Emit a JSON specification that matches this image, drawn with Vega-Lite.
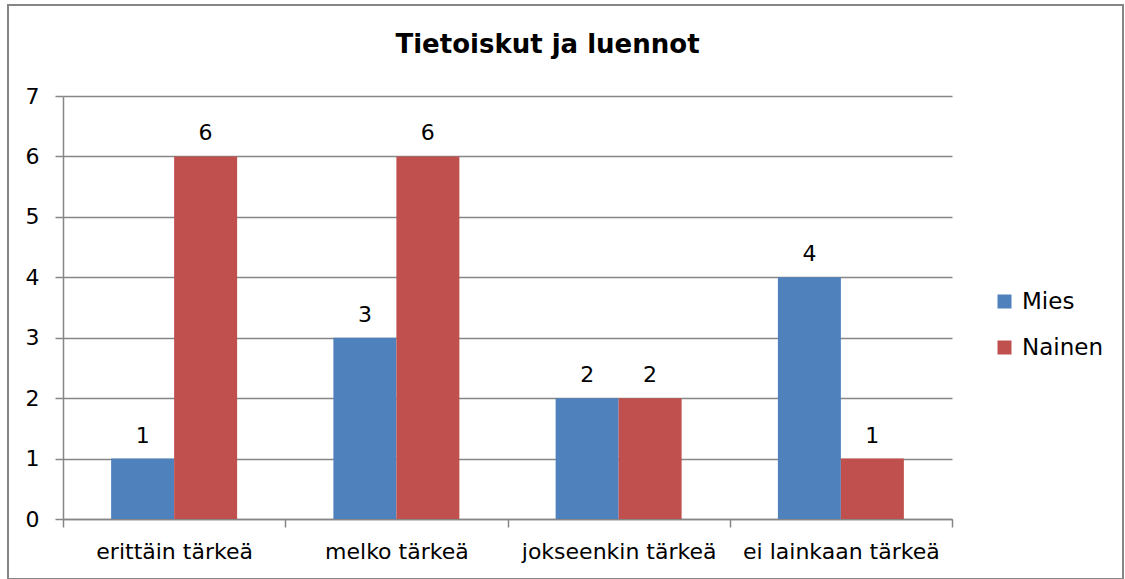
{
  "$schema": "https://vega.github.io/schema/vega-lite/v6.json",
  "width": 1115,
  "height": 574,
  "autosize": {"type": "none"},
  "padding": {"left": 8, "top": 5, "right": 2, "bottom": 0},
  "background": "white",
  "config": {
    "view": {"stroke": "#868686", "strokeWidth": 2},
    "font": "DejaVu Sans"
  },
  "title": {
    "text": "Tietoiskut ja luennot",
    "font": "DejaVu Sans",
    "fontSize": 26,
    "fontWeight": "bold",
    "color": "black",
    "anchor": "middle",
    "frame": "group",
    "orient": "top",
    "offset": -74,
    "baseline": "alphabetic",
    "dx": -18
  },
  "data": {
    "values": [
      {"kategoria": "erittäin tärkeä", "sukupuoli": "Mies", "arvo": 1},
      {"kategoria": "erittäin tärkeä", "sukupuoli": "Nainen", "arvo": 6},
      {"kategoria": "melko tärkeä", "sukupuoli": "Mies", "arvo": 3},
      {"kategoria": "melko tärkeä", "sukupuoli": "Nainen", "arvo": 6},
      {"kategoria": "jokseenkin tärkeä", "sukupuoli": "Mies", "arvo": 2},
      {"kategoria": "jokseenkin tärkeä", "sukupuoli": "Nainen", "arvo": 2},
      {"kategoria": "ei lainkaan tärkeä", "sukupuoli": "Mies", "arvo": 4},
      {"kategoria": "ei lainkaan tärkeä", "sukupuoli": "Nainen", "arvo": 1}
    ]
  },
  "encoding": {
    "x": {
      "field": "kategoria",
      "type": "nominal",
      "sort": ["erittäin tärkeä", "melko tärkeä", "jokseenkin tärkeä", "ei lainkaan tärkeä"],
      "scale": {"range": [55, 944], "paddingInner": 0, "paddingOuter": 0},
      "axis": {
        "title": null,
        "tickBand": "extent",
        "offset": -60,
        "grid": false,
        "domainColor": "#868686",
        "domainWidth": 1.5,
        "tickColor": "#868686",
        "tickWidth": 1.5,
        "tickSize": 8,
        "labelFont": "DejaVu Sans",
        "labelFontSize": 22,
        "labelColor": "black",
        "labelPadding": 14,
        "labelAngle": 0,
        "labelLimit": 0
      }
    },
    "xOffset": {
      "field": "sukupuoli",
      "type": "nominal",
      "sort": ["Mies", "Nainen"],
      "scale": {"paddingInner": 0, "paddingOuter": 0.764}
    },
    "y": {
      "field": "arvo",
      "type": "quantitative",
      "scale": {"domain": [0, 7], "range": [514, 91], "nice": false, "zero": true},
      "axis": {
        "title": null,
        "offset": -55,
        "values": [0, 1, 2, 3, 4, 5, 6, 7],
        "grid": true,
        "gridColor": "#868686",
        "gridWidth": 1.5,
        "domainColor": "#868686",
        "domainWidth": 1.5,
        "tickColor": "#868686",
        "tickWidth": 1.5,
        "tickSize": 8,
        "labelFont": "DejaVu Sans",
        "labelFontSize": 22,
        "labelColor": "black",
        "labelPadding": 16
      }
    }
  },
  "layer": [
    {
      "mark": {"type": "bar"},
      "encoding": {
        "color": {
          "field": "sukupuoli",
          "type": "nominal",
          "sort": ["Mies", "Nainen"],
          "scale": {"domain": ["Mies", "Nainen"], "range": ["#4F81BD", "#C0504D"]},
          "legend": {
            "orient": "none",
            "legendX": 985,
            "legendY": 285,
            "title": null,
            "symbolType": "square",
            "symbolSize": 196,
            "symbolStrokeWidth": 0,
            "labelFont": "DejaVu Sans",
            "labelFontSize": 23,
            "labelColor": "black",
            "labelOffset": 6,
            "rowPadding": 22,
            "padding": 0
          }
        }
      }
    },
    {
      "mark": {"type": "text", "dy": -16, "baseline": "alphabetic", "fontSize": 22, "font": "DejaVu Sans", "color": "black"},
      "encoding": {"text": {"field": "arvo", "type": "quantitative"}}
    }
  ]
}
